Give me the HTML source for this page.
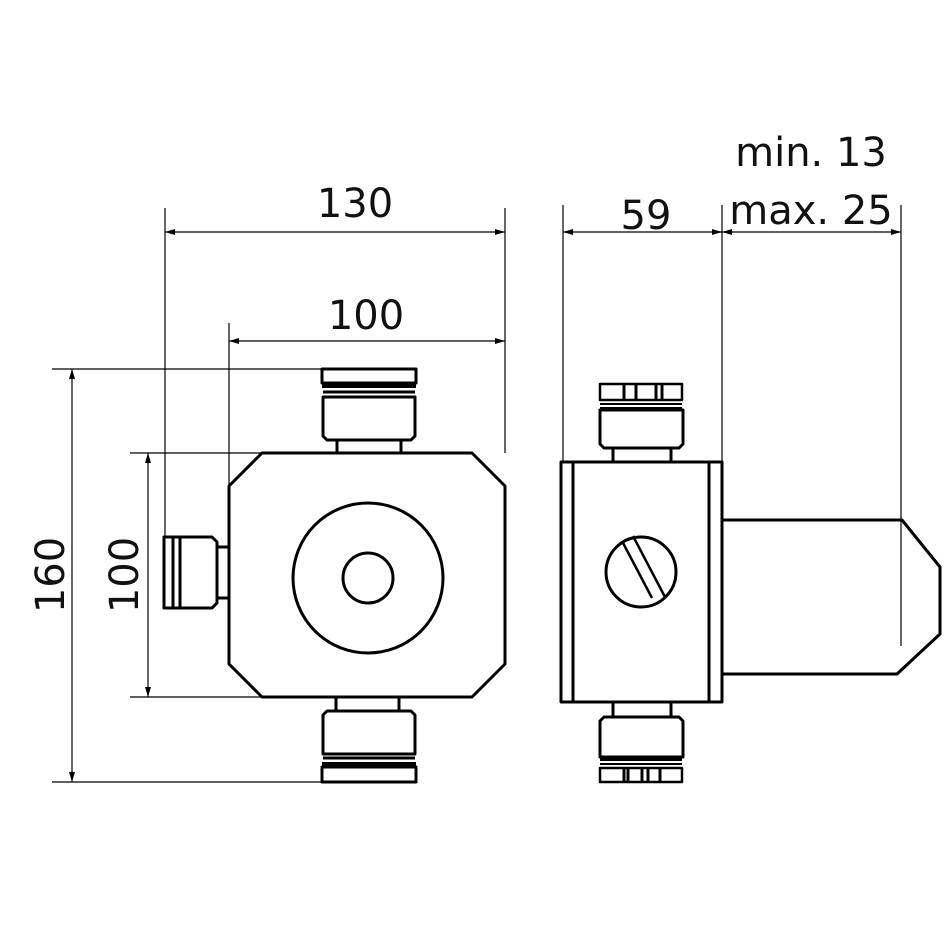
<!DOCTYPE html>
<html><head><style>html,body{margin:0;padding:0;background:#fff}svg{display:block}</style></head>
<body>
<svg width="945" height="945" viewBox="0 0 945 945" xmlns="http://www.w3.org/2000/svg">
<defs>
<marker id="a" viewBox="0 0 10 6" refX="10" refY="3" markerWidth="10" markerHeight="6" markerUnits="userSpaceOnUse" orient="auto-start-reverse"><path d="M0,0L10,3L0,6z" fill="#000"/></marker>
</defs>
<g font-family="DejaVu Sans, Liberation Sans, sans-serif" font-size="40" fill="#111" text-anchor="middle">
<text x="355" y="217">130</text>
<text x="366" y="329">100</text>
<text x="646" y="229">59</text>
<text x="811" y="166">min. 13</text>
<text x="811" y="224">max. 25</text>
<text transform="translate(64,575) rotate(-90)">160</text>
<text transform="translate(138,575) rotate(-90)">100</text>
</g>
<g stroke="#000" stroke-width="1.2" fill="none">
<line x1="165" y1="208" x2="165" y2="537"/>
<line x1="505" y1="208" x2="505" y2="453"/>
<line x1="229" y1="323" x2="229" y2="486"/>
<line x1="165" y1="232" x2="505" y2="232" marker-start="url(#a)" marker-end="url(#a)"/>
<line x1="229" y1="341" x2="505" y2="341" marker-start="url(#a)" marker-end="url(#a)"/>
<line x1="52" y1="369" x2="322" y2="369"/>
<line x1="52" y1="782" x2="322" y2="782"/>
<line x1="72" y1="369" x2="72" y2="782" marker-start="url(#a)" marker-end="url(#a)"/>
<line x1="130" y1="453" x2="336" y2="453"/>
<line x1="130" y1="697" x2="262" y2="697"/>
<line x1="148" y1="453" x2="148" y2="697" marker-start="url(#a)" marker-end="url(#a)"/>
<line x1="563" y1="205" x2="563" y2="462"/>
<line x1="722" y1="205" x2="722" y2="462"/>
<line x1="901" y1="205" x2="901" y2="646"/>
<line x1="563" y1="232" x2="722" y2="232" marker-start="url(#a)" marker-end="url(#a)"/>
<line x1="722" y1="232" x2="901" y2="232" marker-start="url(#a)" marker-end="url(#a)"/>
</g>
<g stroke="#000" stroke-width="3" fill="none" stroke-linejoin="round">
<path d="M262,453 H472 L505,486 V664 L472,697 H262 L229,664 V486 Z"/>
<circle cx="368" cy="578" r="75"/>
<circle cx="368" cy="578" r="25"/>
<rect x="322" y="369" width="94" height="14"/>
<line x1="322" y1="386" x2="416" y2="386" stroke-width="4"/>
<line x1="323" y1="392" x2="415" y2="392"/>
<path d="M323,397 H415 V436 L411,440 H327 L323,436 Z"/>
<path d="M337,440 V454 M401,440 V454"/>
<path d="M336,697 V711 M399,697 V711"/>
<path d="M323,715 L327,711 H411 L415,715 V754 H323 Z"/>
<line x1="323" y1="758" x2="415" y2="758"/>
<line x1="322" y1="764" x2="416" y2="764" stroke-width="4"/>
<rect x="322" y="767" width="94" height="15"/>
<path d="M164,537 H212 L217,542 V603 L212,608 H164 Z"/>
<path d="M173,537 V608 M180,537 V608"/>
<path d="M217,547 H229 M217,598 H229"/>
<rect x="561" y="462" width="161" height="240"/>
<path d="M573,462 V702 M709,462 V702"/>
<circle cx="641" cy="572" r="35"/>
<path d="M622,541 L652,598 M633,536 L665,597" stroke-width="2.5"/>
<path d="M722,520 H902 L940,567 V634 L897,674 H722"/>
<rect x="600" y="384" width="82" height="16" stroke-width="2.5"/>
<path d="M624,384 V400 M636,384 V400 M656,384 V400 M662,384 V400" stroke-width="3"/>
<line x1="600" y1="404" x2="682" y2="404" stroke-width="2"/>
<line x1="600" y1="409" x2="682" y2="409" stroke-width="4"/>
<path d="M600,410 H683 V444 L679,448 H604 L600,444 Z"/>
<path d="M613,448 V462 M671,448 V462"/>
<path d="M613,702 V717 M671,702 V717"/>
<path d="M600,721 L604,717 H679 L683,721 V757 H600 Z"/>
<line x1="600" y1="759" x2="682" y2="759" stroke-width="4"/>
<line x1="600" y1="764" x2="682" y2="764" stroke-width="2"/>
<rect x="600" y="768" width="82" height="14" stroke-width="2.5"/>
<path d="M624,768 V782 M628,768 V782 M642,768 V782 M648,768 V782 M660,768 V782" stroke-width="3"/>
</g>
</svg>
</body></html>
